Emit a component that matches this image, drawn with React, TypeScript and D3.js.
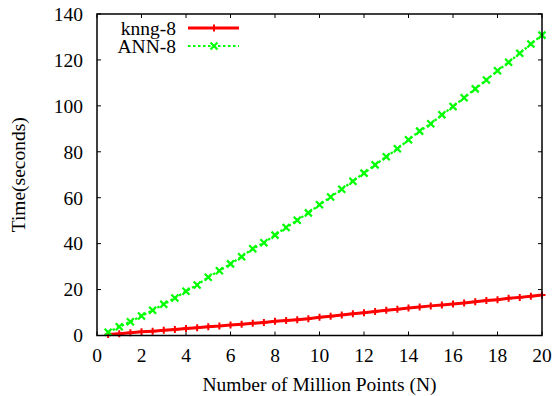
import React from 'react'
import * as d3 from 'd3'

// x positions (millions of points)
const points = [0.5, 1, 1.5, 2, 2.5, 3, 3.5, 4, 4.5, 5, 5.5, 6, 6.5, 7, 7.5, 8, 8.5, 9, 9.5, 10,
  10.5, 11, 11.5, 12, 12.5, 13, 13.5, 14, 14.5, 15, 15.5, 16, 16.5, 17, 17.5, 18, 18.5, 19, 19.5, 20]

const knng8 = [0.4, 0.8, 1.2, 1.6, 1.9, 2.3, 2.6, 3.0, 3.4, 3.8, 4.1, 4.6, 4.9, 5.3, 5.7, 6.2, 6.5, 6.9, 7.3, 7.9,
  8.4, 8.9, 9.5, 9.9, 10.4, 11.0, 11.4, 12.0, 12.4, 12.9, 13.3, 13.7, 14.2, 14.7, 15.2, 15.6, 16.2, 16.6, 17.1, 17.6]

const ann8 = [1.4, 3.8, 6.0, 8.5, 11.0, 13.6, 16.3, 19.3, 22.0, 25.4, 28.2, 31.2, 34.3, 37.8, 40.4, 43.7, 47.0, 50.2, 53.4, 56.9,
  60.3, 63.7, 67.2, 70.7, 74.3, 77.8, 81.3, 85.2, 89.0, 92.2, 96.1, 99.7, 103.5, 107.4, 111.3, 115.3, 119.0, 122.9, 126.9, 130.8]

const xTicks = [0, 2, 4, 6, 8, 10, 12, 14, 16, 18, 20]
const yTicks = [0, 20, 40, 60, 80, 100, 120, 140]
const seriesNames = ['knng-8', 'ANN-8']

const W = 556, H = 396
const left = 97, right = 542, top = 14, bottom = 335.5
const ts = { fontFamily: '"Liberation Serif"', fontSize: 19.5 }

export default function App() {
  const x = d3.scaleLinear().domain([0, 20]).range([left, right])
  const y = d3.scaleLinear().domain([0, 140]).range([bottom, top])
  const tl = 4

  const line = d3.line<number>()
    .x((d, i) => x(points[i]))
    .y(d => y(d))

  const plus = (cx: number, cy: number, k: string) => (
    <path key={k} d={`M${cx - 3.5},${cy}H${cx + 3.5}M${cx},${cy - 3.5}V${cy + 3.5}`} stroke="#ff0000" strokeWidth={2} />
  )
  const cross = (cx: number, cy: number, k: string) => (
    <path key={k} d={`M${cx - 3.5},${cy - 3.5}L${cx + 3.5},${cy + 3.5}M${cx - 3.5},${cy + 3.5}L${cx + 3.5},${cy - 3.5}`} stroke="#00ff00" strokeWidth={2.2} />
  )

  return (
    <svg width={W} height={H} style={{ position: 'absolute', left: 0, top: 0, background: '#fff' }}>
      <rect x={0} y={0} width={W} height={H} fill="#fff" />

      {/* ticks, mirrored on all sides */}
      <g stroke="#000" strokeWidth={1}>
        {xTicks.map(t => (
          <g key={'xt' + t}>
            <line x1={x(t)} x2={x(t)} y1={bottom} y2={bottom - tl} />
            <line x1={x(t)} x2={x(t)} y1={top} y2={top + tl} />
          </g>
        ))}
        {yTicks.map(t => (
          <g key={'yt' + t}>
            <line x1={left} x2={left + tl} y1={y(t)} y2={y(t)} />
            <line x1={right} x2={right - tl} y1={y(t)} y2={y(t)} />
          </g>
        ))}
      </g>

      {xTicks.map(t => (
        <text key={'xl' + t} style={ts} x={x(t)} y={362} textAnchor="middle">{t}</text>
      ))}
      {yTicks.map(t => (
        <text key={'yl' + t} style={ts} x={83} y={y(t)} dy="0.35em" textAnchor="end">{t}</text>
      ))}

      <text style={ts} x={(left + right) / 2} y={391} textAnchor="middle">Number of Million Points (N)</text>
      <text style={ts} transform={`translate(25,${(top + bottom) / 2}) rotate(-90)`} textAnchor="middle">Time(seconds)</text>

      {/* series */}
      <path d={line(knng8) || ''} fill="none" stroke="#ff0000" strokeWidth={3} />
      {knng8.map((v, i) => plus(x(points[i]), y(v), 'p' + i))}

      <path d={line(ann8) || ''} fill="none" stroke="#00ff00" strokeWidth={2.2} strokeDasharray="2.5,2.5" />
      {ann8.map((v, i) => cross(x(points[i]), y(v), 'c' + i))}

      {/* legend */}
      <text style={ts} x={176} y={29} dy="0.33em" textAnchor="end">{seriesNames[0]}</text>
      <line x1={188} x2={239} y1={28} y2={28} stroke="#ff0000" strokeWidth={3} />
      {plus(214, 28, 'lp')}
      <text style={ts} x={176} y={47} dy="0.33em" textAnchor="end">{seriesNames[1]}</text>
      <line x1={188} x2={239} y1={46} y2={46} stroke="#00ff00" strokeWidth={2.2} strokeDasharray="2.5,2.5" />
      {cross(214, 46, 'lc')}

      <rect x={left} y={top} width={right - left} height={bottom - top} fill="none" stroke="#000" strokeWidth={1.5} />
    </svg>
  )
}
